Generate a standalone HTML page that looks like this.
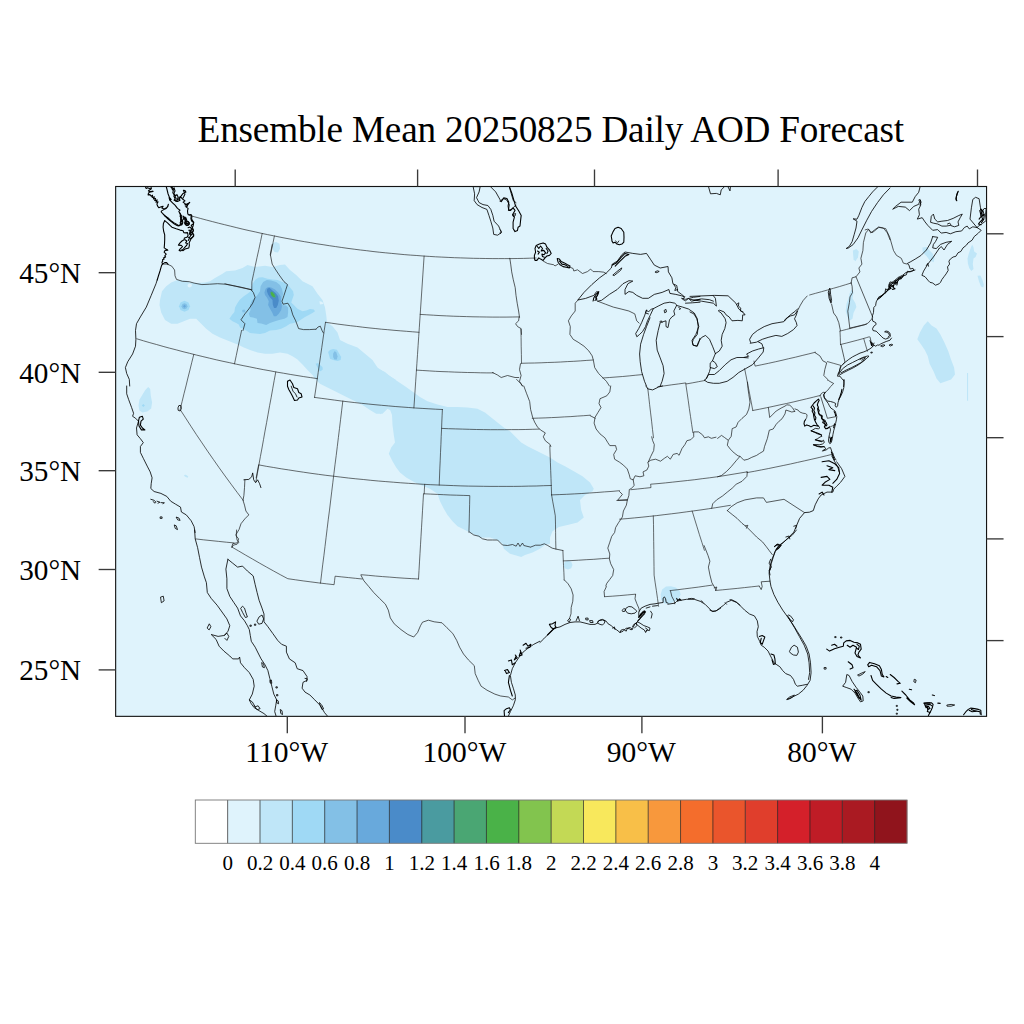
<!DOCTYPE html>
<html><head><meta charset="utf-8"><title>Ensemble Mean 20250825 Daily AOD Forecast</title>
<style>
html,body{margin:0;padding:0;background:#fff;}
body{width:1024px;height:1024px;overflow:hidden;position:relative;font-family:"Liberation Serif",serif;}
svg{position:absolute;left:0;top:0;}
text{font-family:"Liberation Serif",serif;fill:#000;}
.st{fill:none;stroke:#111;stroke-width:0.68;stroke-linejoin:round;stroke-linecap:round;}
.sl{fill:none;stroke:#1a1a1a;stroke-width:0.63;stroke-linejoin:round;stroke-linecap:round;}
.cd{fill:none;stroke:#000;stroke-width:1.08;stroke-linejoin:round;stroke-linecap:round;}
.co{fill:none;stroke:#000;stroke-width:0.82;stroke-linejoin:round;stroke-linecap:round;}
.tk{stroke:#3a3a3a;stroke-width:1.35;fill:none;}
</style></head><body>
<svg width="1024" height="1024" viewBox="0 0 1024 1024">
<defs><clipPath id="fc"><rect x="115.65" y="186.5" width="870.9" height="529.85"/></clipPath></defs>
<rect x="115.65" y="186.5" width="870.90" height="529.85" fill="#dff3fc"/>
<g clip-path="url(#fc)">
<polygon fill="#bfe6f8" points="160.0,300.0 162.0,291.2 166.2,286.2 171.2,282.5 177.5,280.0 186.2,280.5 190.0,282.5 197.5,283.0 205.0,282.5 210.0,281.2 215.0,278.0 222.5,273.8 226.2,271.2 235.0,270.5 242.5,268.0 247.5,265.0 255.0,267.0 265.0,265.8 272.5,267.0 280.0,265.0 285.0,264.5 290.0,270.0 296.2,275.0 302.5,281.2 312.5,286.2 317.5,293.8 322.5,300.0 325.0,307.5 326.2,315.0 327.0,322.5 332.5,326.2 337.5,332.5 340.0,340.0 347.5,343.8 357.5,347.5 365.0,353.8 372.5,360.0 377.5,367.5 386.2,373.8 396.0,380.0 396.0,412.5 387.5,408.8 382.5,413.8 376.2,413.8 370.0,410.0 362.5,405.0 352.5,400.0 342.5,395.0 335.0,391.2 327.5,387.5 320.0,383.8 315.0,378.8 312.5,375.0 307.5,370.0 302.5,364.5 297.5,359.5 292.5,356.2 287.5,353.8 280.0,352.5 272.5,353.8 265.0,353.8 257.5,352.5 250.0,350.0 243.8,347.5 238.8,345.0 232.5,342.5 226.2,340.0 220.0,337.5 212.5,333.8 206.2,328.8 201.2,323.8 196.2,318.8 190.0,318.8 183.8,321.2 177.5,323.8 171.2,323.8 165.0,320.0 161.2,312.5 159.5,305.0"/>
<polygon fill="#bfe6f8" points="380.0,369.5 385.0,372.0 390.0,376.2 397.5,381.2 405.0,386.2 413.8,392.5 420.0,397.0 427.5,401.2 437.5,404.5 447.5,407.0 457.5,407.0 467.5,407.5 477.5,408.8 485.0,412.5 491.2,417.5 497.5,422.5 503.8,427.5 510.0,431.2 516.2,437.5 521.2,442.5 527.5,446.2 535.0,450.0 542.5,453.8 550.0,457.5 557.5,462.5 565.0,466.2 573.8,471.2 582.5,476.2 590.0,482.5 593.8,488.8 592.5,491.2 585.0,495.0 580.0,500.0 581.2,510.0 583.8,517.5 577.5,522.5 567.5,525.0 558.8,527.0 552.5,531.2 550.0,537.5 550.0,543.8 545.0,545.0 540.0,548.8 532.5,552.5 525.0,555.0 521.2,557.0 516.2,555.5 510.0,553.8 503.8,548.8 502.5,543.8 497.5,540.0 490.0,537.5 480.0,537.5 472.5,533.8 465.0,530.0 457.5,526.2 452.5,521.2 447.5,515.0 443.8,508.8 440.0,501.2 437.5,493.8 430.0,488.8 423.8,486.2 415.0,482.5 406.2,477.5 400.0,472.5 396.2,467.5 392.5,461.2 388.8,453.8 391.2,447.5 395.0,442.5 393.8,435.0 392.5,425.0 392.0,415.0 390.0,409.5 386.2,408.8 382.5,411.2 380.0,414.5"/>
<polygon fill="#bfe6f8" points="563.5,565.0 564.8,561.8 568.0,560.5 571.2,561.8 572.5,565.0 571.2,568.2 568.0,569.5 564.8,568.2"/>
<polygon fill="#9fd9f5" points="229.4,318.8 231.9,315.0 234.4,311.9 235.0,307.5 237.5,303.1 240.0,299.4 243.8,296.2 247.5,293.8 250.6,291.2 251.2,287.5 253.1,283.1 255.6,279.4 258.8,277.5 262.5,277.2 267.5,278.8 272.5,279.4 277.5,280.0 282.5,281.9 287.5,284.0 290.0,287.5 293.1,291.2 293.8,295.0 292.5,298.8 291.2,302.5 293.8,305.0 297.5,308.8 302.5,311.2 306.2,310.6 310.0,309.0 313.8,309.4 315.0,311.2 312.5,313.1 308.8,315.0 305.0,316.9 301.2,319.4 297.5,321.9 293.8,323.1 290.0,323.8 286.2,326.2 281.2,328.8 276.2,330.0 270.0,330.6 265.0,333.1 260.0,334.0 255.0,333.5 250.0,333.1 246.2,330.6 243.1,328.8 240.0,327.5 238.8,324.4 236.2,323.1 232.5,321.2"/>
<polygon fill="#83c0e6" points="248.8,313.8 250.6,310.0 250.0,305.0 251.9,300.6 255.0,298.1 257.5,295.0 260.0,291.2 260.6,286.2 263.1,281.9 266.9,280.0 271.2,280.6 276.2,281.9 280.0,285.0 281.9,288.8 283.1,293.8 281.9,298.1 281.2,302.5 282.5,305.0 286.2,305.6 288.1,307.5 288.1,312.5 287.5,316.9 284.4,318.8 280.0,319.8 275.0,321.2 270.0,323.1 266.2,325.0 261.2,323.5 257.5,323.1 256.9,318.8 253.1,317.5 250.0,316.9"/>
<polygon fill="#83c0e6" points="242.2,310.0 244.4,309.4 245.6,311.0 244.4,312.5 242.5,312.2"/>
<polygon fill="#68a9dc" points="264.4,292.5 265.6,288.8 268.1,286.9 271.2,287.5 275.0,289.4 278.1,292.5 280.6,296.2 281.2,301.2 281.9,306.2 281.2,310.0 278.8,313.8 276.2,316.2 273.8,316.2 272.2,312.5 270.0,308.8 268.1,305.0 268.8,301.2 266.9,297.5 265.0,295.0"/>
<polygon fill="#4a8bc9" points="267.2,288.8 269.4,287.8 271.9,290.0 275.6,293.1 278.1,296.2 278.8,300.6 277.8,305.0 276.2,308.1 274.0,308.1 272.8,304.4 272.5,300.0 270.0,297.5 268.1,294.4 266.9,291.2"/>
<polygon fill="#4a9ba0" points="270.0,291.9 271.9,291.0 274.4,293.1 276.2,296.2 275.6,298.8 273.1,298.1 271.0,295.6"/>
<polygon fill="#4ab248" points="270.6,292.5 272.2,291.9 274.4,294.4 275.0,296.9 273.1,296.9 271.2,295.0"/>
<polygon fill="#dff3fc" points="319.4,301.2 321.2,301.5 323.5,303.1 323.1,304.0 320.0,304.4"/>
<polygon fill="#9fd9f5" points="328.1,351.9 330.0,350.0 333.1,349.0 336.9,349.8 338.8,353.1 341.2,356.9 340.6,360.0 337.5,361.0 333.1,360.0 330.0,358.8 329.0,355.0"/>
<polygon fill="#83c0e6" points="333.1,353.8 334.4,351.2 336.2,351.9 337.5,356.2 336.9,359.4 334.4,359.4 333.1,356.9"/>
<polygon fill="#9fd9f5" points="315.6,363.8 318.1,363.1 320.0,365.0 322.5,366.9 322.8,369.4 320.6,371.2 318.8,370.6 317.5,367.5"/>
<polygon fill="#9fd9f5" points="179.0,306.2 180.5,302.5 184.5,300.8 188.5,302.5 190.0,306.2 188.5,310.0 184.5,311.8 180.5,310.0"/>
<polygon fill="#83c0e6" points="181.5,306.2 182.5,304.0 184.5,303.2 186.5,304.0 187.5,306.2 186.5,308.5 184.5,309.2 182.5,308.5"/>
<polygon fill="#68a9dc" points="183.0,306.2 184.5,304.8 186.0,306.2 184.5,307.8"/>
<polygon fill="#dff3fc" points="187.5,285.0 189.0,283.5 191.5,284.0 192.0,286.0 190.0,287.5 188.0,287.0"/>
<polygon fill="#bfe6f8" points="917.3,339.3 919.9,332.5 923.8,325.6 927.7,321.2 931.6,325.6 936.5,328.6 940.4,334.4 944.3,342.2 948.2,351.0 951.1,359.8 954.1,367.6 955.0,374.5 951.1,379.4 946.2,381.3 940.4,383.3 936.5,378.4 933.6,371.5 929.6,363.7 927.7,355.9 924.8,350.1 920.9,344.2"/>
<polygon fill="#bfe6f8" points="845.7,311.0 846.6,303.2 848.6,298.3 849.6,293.4 851.5,289.5 853.5,292.4 852.5,298.3 855.4,303.2 856.4,307.1 853.5,313.0 852.5,318.8 849.6,320.8 847.6,316.9"/>
<polygon fill="#bfe6f8" points="852.9,250.5 856.4,248.9 858.8,251.4 858.0,257.3 855.4,261.2 853.5,259.2"/>
<polygon fill="#bfe6f8" points="922.4,247.5 926.7,246.9 929.6,250.5 932.6,253.4 934.5,258.3 933.6,262.2 929.6,260.2 926.7,256.3 922.8,252.4"/>
<polygon fill="#bfe6f8" points="977.5,275.8 980.4,275.5 982.4,279.8 983.8,284.6 983.4,287.6 981.0,286.6 979.1,281.7"/>
<polygon fill="#bfe6f8" points="967.0,373.1 968.1,373.1 968.1,400.8 967.0,400.8"/>
<polygon fill="#bfe6f8" points="138.5,405.5 139.4,399.7 142.4,394.8 145.3,389.9 148.2,387.0 150.2,388.9 150.8,395.8 152.1,402.6 151.2,408.5 147.2,411.4 142.4,412.4 139.4,410.4"/>
<polygon fill="#9fd9f5" points="141.8,405.5 143.3,404.0 144.9,405.5 143.3,407.1"/>
<polygon fill="#bfe6f8" points="184.0,475.1 185.9,474.7 188.3,476.6 187.5,477.8 184.8,476.6"/>
<polygon fill="#bfe6f8" points="660.7,594.5 662.1,589.6 666.0,586.6 670.9,586.2 675.7,587.6 679.6,590.5 680.6,594.5 678.7,598.4 674.8,601.3 668.9,604.2 664.0,603.2 661.1,599.3"/>
<polygon fill="#bfe6f8" points="272.5,243.0 276.2,242.0 279.5,243.8 280.0,248.8 278.0,252.5 274.5,252.0 272.5,248.8"/>
<polygon fill="#bfe6f8" points="972.1,244.4 973.5,247.2 974.2,251.4 977.0,253.5 975.6,257.0 973.5,258.4 972.8,264.1 973.5,269.0 971.4,271.1 969.3,268.3 967.9,263.4 967.5,258.4 968.6,254.2 970.0,250.0"/>
<polyline class="sl" points="188.2,215.0 194.2,216.7 200.3,218.4 206.3,220.0 212.4,221.6 218.5,223.2 224.6,224.7 230.7,226.2 236.8,227.7 242.9,229.2 249.1,230.6 255.2,231.9 261.3,233.3 267.5,234.6 273.6,235.8 279.8,237.1 286.0,238.3 292.1,239.4 298.3,240.6 304.5,241.7 310.7,242.7 316.9,243.8 323.1,244.7 329.3,245.7 335.6,246.6 341.8,247.5 348.0,248.4 354.2,249.2 360.5,250.0 366.7,250.7 373.0,251.5 379.2,252.2 385.4,252.8 391.7,253.4 398.0,254.0 404.2,254.6 410.5,255.1 416.8,255.5 423.0,256.0 429.3,256.4 435.6,256.8 441.8,257.1 448.1,257.4 454.4,257.7 460.7,257.9 467.0,258.1 473.3,258.3 479.5,258.4 485.8,258.5 492.1,258.6 498.4,258.6 504.7,258.6 511.0,258.6 517.2,258.5 523.5,258.4 529.8,258.2 536.1,258.0"/>
<polyline class="sl" points="262.2,233.4 260.5,241.5 258.8,249.6 257.0,257.6 255.3,265.6 253.6,273.7 251.9,281.7 251.8,285.8 251.8,289.9"/>
<polyline class="sl" points="224.9,283.8 230.3,285.1 235.6,286.3 241.0,287.5 246.4,288.7 251.8,289.9"/>
<polyline class="sl" points="274.4,236.0 273.1,242.4 271.8,248.8 270.5,255.1"/>
<polyline class="sl" points="136.8,338.8 143.4,340.8 149.9,342.7 156.5,344.5 163.1,346.4 169.7,348.2 176.4,349.9 183.0,351.7 189.6,353.3 196.3,355.0 202.9,356.6 209.6,358.2 216.3,359.8 223.0,361.3 229.7,362.7 236.4,364.2 243.1,365.6 249.8,366.9 256.5,368.3 263.2,369.6 270.0,370.8 276.7,372.1 283.4,373.2 290.2,374.4 297.0,375.5 303.7,376.6 310.5,377.6 317.3,378.6"/>
<polyline class="sl" points="241.6,330.4 239.8,338.8 238.0,347.1 236.3,355.4 234.5,363.8"/>
<polyline class="sl" points="193.8,354.4 191.8,362.3 189.9,370.1 187.9,378.0 186.0,385.9 184.0,393.7 182.1,401.6 180.1,409.5 185.5,417.8 190.9,426.2 196.4,434.6 202.0,442.9 207.6,451.2 213.4,459.5 219.2,467.8 225.1,476.0 231.1,484.2 237.2,492.4 243.4,500.6"/>
<polyline class="sl" points="275.8,371.9 274.2,380.4 272.7,388.8 271.2,397.3 269.6,405.7 268.1,414.2 266.6,422.6 265.0,431.1 263.5,439.6 262.0,448.0 260.4,456.5 258.9,464.9 257.4,473.3 255.9,481.7"/>
<polyline class="sl" points="325.5,322.3 324.2,330.7 323.0,339.0 321.8,347.4 320.6,355.7 319.4,364.1 318.2,372.4 317.0,380.7 315.8,389.0 314.5,397.4"/>
<polyline class="sl" points="325.5,322.3 331.7,323.2 337.9,324.1 344.1,324.9 350.3,325.7 356.5,326.4 362.8,327.2 369.0,327.9 375.2,328.5 381.5,329.2 387.7,329.7 394.0,330.3 400.2,330.8 406.5,331.3 412.7,331.8 419.0,332.3"/>
<polyline class="sl" points="314.5,397.4 321.2,398.3 327.9,399.2 334.6,400.1 341.4,401.0 348.1,401.8 354.8,402.6 361.5,403.3 368.2,404.0 375.0,404.7 381.7,405.3 388.4,405.9 395.2,406.5 401.9,407.0 408.7,407.5 415.4,408.0 422.1,408.4 428.9,408.8 435.7,409.2 442.4,409.5"/>
<polyline class="sl" points="424.1,256.1 423.5,265.1 422.9,274.1 422.3,283.0 421.7,292.0 421.1,301.0 420.5,309.9 419.9,318.9 419.3,327.8 418.7,336.7 418.1,345.6 417.5,354.5 416.9,363.4 416.3,372.3 415.7,381.2 415.1,390.1 414.5,399.0 413.9,407.9"/>
<polyline class="sl" points="342.8,401.1 341.7,410.2 340.6,419.3 339.5,428.4 338.4,437.4 337.3,446.5 336.2,455.6 335.0,464.7 333.9,473.7 332.8,482.8 331.7,491.9 330.6,501.0 329.5,510.1 328.3,519.2 327.2,528.3 326.1,537.4 325.0,546.5 323.9,555.7 322.7,564.8 321.6,573.9 320.5,583.1"/>
<polyline class="sl" points="258.9,464.9 266.3,466.3 273.7,467.5 281.2,468.8 288.6,469.9 296.1,471.1 303.5,472.2 311.0,473.3 318.4,474.3 325.9,475.3 333.4,476.2 340.8,477.1 348.3,478.0 355.8,478.8 363.3,479.5 370.8,480.3 378.3,481.0 385.8,481.6 393.3,482.2 400.8,482.8 408.3,483.3 415.8,483.8 423.3,484.3 430.8,484.7 438.4,485.0 445.9,485.3 453.4,485.6 460.9,485.9 468.5,486.1 476.0,486.2 483.5,486.3 491.0,486.4 498.6,486.4 506.1,486.4 513.6,486.4 521.2,486.3 528.7,486.1 536.2,486.0 543.7,485.7 551.3,485.5"/>
<polyline class="sl" points="442.4,409.5 442.1,415.8 441.8,422.1 441.6,428.4 441.2,436.5 440.9,444.6 440.5,452.7 440.2,460.8 439.8,468.9 439.5,477.0 439.2,485.1"/>
<polyline class="sl" points="420.2,314.4 426.8,314.8 433.4,315.2 440.0,315.6 446.6,315.9 453.2,316.2 459.8,316.4 466.4,316.6 473.0,316.8 479.6,316.9 486.2,317.0 492.8,317.1 499.4,317.1 506.1,317.1 512.7,317.0 519.3,316.9"/>
<polyline class="sl" points="416.4,370.1 422.8,370.5 429.2,370.9 435.6,371.3 442.0,371.6 448.4,371.8 454.8,372.1 461.2,372.3 467.6,372.5 474.1,372.6 480.5,372.8 486.9,372.9 493.3,372.9"/>
<polyline class="sl" points="441.6,428.4 448.5,428.7 455.5,428.9 462.5,429.1 469.4,429.3 476.4,429.5 483.4,429.6 490.4,429.7 497.3,429.7 504.3,429.7 511.3,429.6 518.2,429.6 525.2,429.5 532.2,429.3 539.2,429.1"/>
<polyline class="sl" points="424.7,484.3 424.4,489.1 424.2,493.8"/>
<polyline class="sl" points="423.5,493.8 423.0,502.3 422.5,510.8 422.0,519.3 421.5,527.8 421.0,536.3 420.5,544.8 420.0,553.4 419.5,561.9 419.0,570.5 418.5,579.0"/>
<polyline class="sl" points="424.2,493.8 430.7,494.1 437.2,494.4 443.7,494.7 450.2,495.0 456.7,495.2 463.2,495.4 469.8,495.6 469.6,504.7 469.4,513.9 469.2,523.1 468.9,532.3"/>
<polyline class="sl" points="418.5,579.0 411.3,578.6 404.1,578.2 396.9,577.7 389.7,577.1 382.6,576.6 375.4,576.0 368.2,575.3 361.1,574.7"/>
<polyline class="sl" points="362.1,579.0 355.4,578.3 348.6,577.6 341.8,576.9 335.1,576.2 334.6,580.4 334.1,584.7 326.4,583.8 318.7,582.9 310.9,581.9 303.2,580.9 295.5,579.8 287.8,578.7 280.7,574.9 273.6,571.0 266.6,567.1 259.5,563.1 252.6,559.1 245.6,555.1 238.7,551.0 231.8,547.0"/>
<polyline class="sl" points="195.6,538.9 203.3,539.8 211.0,540.6 218.7,541.4 226.3,542.2 234.0,542.9"/>
<polyline class="sl" points="549.8,445.8 550.1,454.0 550.4,462.2 550.7,470.4 551.0,478.5 551.3,486.7 551.6,494.9"/>
<polyline class="sl" points="551.6,494.9 559.2,494.6 566.7,494.3 574.3,493.9 581.8,493.5 589.4,493.0 596.9,492.5 604.4,491.9 612.0,491.4 619.5,490.7"/>
<polyline class="sl" points="551.6,494.9 552.8,501.9 554.1,508.9 555.3,515.8 555.5,524.1 555.6,532.4 555.7,540.7 555.9,549.0"/>
<polyline class="sl" points="562.9,550.5 563.2,557.9 563.5,565.3 563.9,572.7 564.2,580.1"/>
<polyline class="sl" points="563.3,560.9 571.0,560.6 578.6,560.2 586.2,559.7 593.8,559.3 601.4,558.7 609.0,558.2"/>
<polyline class="sl" points="532.2,418.3 538.7,418.1 545.1,417.9 551.6,417.6 558.0,417.3 564.4,416.9 570.9,416.6 577.3,416.1 583.7,415.7 590.2,415.2"/>
<polyline class="sl" points="521.5,363.3 528.1,363.1 534.6,363.0 541.1,362.8 547.7,362.5 554.2,362.3 560.7,362.0 567.3,361.6 573.8,361.3 580.3,360.9 586.8,360.4 593.4,360.0"/>
<polyline class="sl" points="521.5,363.3 521.4,354.7 521.2,346.2 521.1,337.6 520.9,329.1"/>
<polyline class="sl" points="602.8,378.0 609.4,377.5 616.0,377.0 622.6,376.5 629.2,375.9 635.8,375.2 642.3,374.6"/>
<polyline class="sl" points="653.5,437.8 652.5,429.5 651.6,421.2 650.6,412.9 649.6,404.5 648.7,396.2 647.7,387.9"/>
<polyline class="sl" points="657.9,386.6 664.9,385.8 671.8,384.8 678.8,383.9 685.8,382.9 685.8,383.4 685.9,384.0 692.2,382.9 698.5,381.7 704.8,380.5"/>
<polyline class="sl" points="685.8,384.0 687.0,392.1 688.2,400.2 689.3,408.3 690.5,416.4 691.7,424.6 692.9,432.7"/>
<polyline class="sl" points="744.6,368.6 746.3,377.0 747.9,385.3 749.6,393.7 751.2,402.1 752.8,410.5"/>
<polyline class="sl" points="752.8,410.5 759.6,409.2 766.3,407.8 773.1,406.4 779.8,404.9 786.5,403.5 793.2,402.0 799.9,400.4 806.6,398.8 813.3,397.2 820.0,395.5"/>
<polyline class="sl" points="754.0,361.1 754.5,363.6 755.1,366.1 761.8,364.7 768.5,363.3 775.3,361.8 782.0,360.3 788.7,358.7 795.4,357.2 802.1,355.5 808.8,353.9 815.5,352.2"/>
<polyline class="sl" points="825.8,428.6 830.8,426.6 835.7,424.5"/>
<polyline class="sl" points="619.6,519.2 627.1,518.6 634.5,517.9 641.9,517.2 649.3,516.4 656.7,515.6 664.1,514.7 671.5,513.8 678.9,512.9 686.2,511.9 693.6,510.9 701.0,509.9 708.4,508.8 715.7,507.7 723.1,506.5 730.4,505.3"/>
<polyline class="sl" points="630.9,489.7 637.6,489.0 644.3,488.3 651.0,487.6 650.8,485.9 650.6,484.2 658.0,483.6 665.4,482.9 672.8,482.1 680.1,481.3 687.5,480.5 694.8,479.7 702.2,478.7 709.6,477.8 716.9,476.8 722.9,475.9 728.9,474.9 734.9,473.9 740.9,472.9 746.9,471.9"/>
<polyline class="sl" points="746.9,471.9 747.0,472.3 747.0,472.6 754.3,471.3 761.5,469.9 768.7,468.5 775.9,467.0 783.2,465.5 790.4,464.0 797.5,462.4 804.7,460.8 811.9,459.2 819.1,457.5 826.2,455.8 833.4,454.0"/>
<polyline class="sl" points="616.8,500.5 622.0,500.0 627.2,499.5"/>
<polyline class="sl" points="653.3,515.9 653.5,524.4 653.6,532.8 653.7,541.3 653.8,549.7 653.9,558.2 654.0,566.6 654.1,575.1 655.2,582.9 656.4,590.7 657.5,598.5 658.6,606.3"/>
<polyline class="sl" points="692.2,511.1 694.6,519.0 697.0,526.8 699.4,534.6 701.9,542.4 704.4,550.3"/>
<polyline class="sl" points="670.1,590.6 677.1,589.8 684.2,588.9 691.2,588.0 698.3,587.1 705.3,586.1 712.3,585.1"/>
<polyline class="sl" points="715.4,590.5 722.7,589.8 729.9,589.1 737.2,588.4 744.5,587.6 751.7,586.8 759.0,586.0"/>
<polyline class="sl" points="604.4,596.7 612.2,596.2 619.9,595.6 627.7,594.9 635.4,594.2"/>
<polyline class="sl" points="809.6,295.0 815.6,293.3 821.5,291.7 827.5,290.0 833.4,288.3 839.4,286.6 845.3,284.8 851.2,283.0"/>
<polyline class="sl" points="840.0,331.1 846.6,329.4 853.3,327.7 859.9,326.0 866.5,324.2"/>
<polyline class="sl" points="840.5,344.5 846.3,343.1 852.0,341.6 857.8,340.1 863.5,338.5 866.3,337.7 869.2,336.8"/>
<polyline class="sl" points="863.7,338.5 865.5,344.8 867.4,351.2"/>
<polyline class="sl" points="840.0,331.1 840.3,337.8 840.5,344.5"/>
<polyline class="sl" points="827.4,361.6 833.8,363.4 840.2,365.2"/>
<polyline class="st" points="162.9,264.1 167.2,264.1 171.7,266.1 174.6,270.0 175.0,275.8 176.5,279.4 182.4,281.3 189.2,281.7 194.1,283.1 201.9,284.6 209.8,284.2 217.6,283.7 225.4,284.2 233.2,285.6 241.0,287.2 250.8,289.5"/>
<polyline class="st" points="250.8,289.5 253.3,292.4 255.1,297.3 252.7,303.2 248.8,309.0 244.9,313.9 241.0,319.8 244.9,323.7 243.0,330.5"/>
<polyline class="st" points="272.2,244.6 270.3,254.4 272.2,264.1 275.2,269.0 279.1,274.9 284.0,281.7 287.5,284.6 285.9,289.5 284.0,295.4 282.0,301.2 283.0,304.2 287.9,303.2 290.8,308.1 292.8,314.9 295.7,320.8 298.6,328.6 303.5,329.6 309.4,329.6 316.0,329.2"/>
<polyline class="st" points="316.0,329.2 318.0,327.0 320.3,326.2 322.2,330.9 323.4,332.9"/>
<polyline class="st" points="509.8,258.3 510.7,264.1 511.7,271.9 513.3,279.8 515.2,287.6 516.0,295.4 517.2,303.2 518.6,311.0 519.5,317.2"/>
<polyline class="st" points="519.1,317.2 518.6,320.8 515.6,323.7 517.6,326.6 521.1,328.6 521.5,334.4"/>
<polyline class="st" points="520.5,363.7 519.5,369.6 521.1,375.5 519.5,381.3 522.5,386.0"/>
<polyline class="st" points="516.6,379.4 520.5,383.3 522.5,386.0"/>
<polyline class="st" points="578.1,299.9 575.2,303.2 575.2,311.0 571.3,315.9 568.4,320.8 570.3,326.6 569.9,334.4 573.2,339.3 578.1,342.2 584.0,346.2 588.9,351.0 592.2,355.9 593.4,360.4 594.7,367.6 598.6,373.5 603.5,378.4 606.4,381.3 609.4,386.0"/>
<polyline class="st" points="597.7,301.2 605.5,304.2 613.3,307.1 621.1,309.0 628.9,311.0 634.8,313.9 636.7,320.8 639.1,323.1"/>
<polyline class="st" points="851.1,283.1 852.1,277.8 856.0,276.8 859.9,271.9 858.9,268.0 861.9,264.1 860.9,258.3 862.9,250.5 863.4,242.6 865.8,232.9 868.7,229.4 870.7,232.9 874.6,229.9 878.5,227.0 883.4,228.0 887.3,232.9 890.0,239.7"/>
<polyline class="st" points="856.0,276.8 872.6,316.9"/>
<polyline class="st" points="831.6,304.2 833.6,313.0 836.5,316.9 838.8,322.7 840.4,330.5"/>
<polyline class="st" points="797.4,311.0 800.4,305.1 803.3,300.3 807.2,296.0"/>
<polyline class="st" points="815.0,352.6 819.9,355.9 822.8,360.8 826.7,362.8 824.8,369.6 823.8,375.5 827.7,379.4"/>
<polyline class="st" points="849.8,328.1 864.8,324.6 868.1,323.1 871.0,319.8 872.2,318.5"/>
<polyline class="st" points="849.8,328.1 848.8,320.0 847.8,311.2 849.4,302.5 850.0,296.9 852.5,292.5 852.1,286.2 851.2,282.9"/>
<polyline class="st" points="841.0,344.6 844.0,357.5 845.0,362.2 843.1,364.0"/>
<polyline class="st" points="870.0,337.2 871.0,341.2 872.5,345.0"/>
<polyline class="st" points="840.6,365.6 839.8,370.0 838.8,373.8"/>
<polyline class="st" points="865.2,229.9 868.1,229.0 872.0,232.9 878.9,227.4 885.7,228.6 889.6,236.8 893.5,250.5 896.4,255.3 901.3,258.3 903.3,263.1 907.2,264.1"/>
<polyline class="st" points="258.6,465.1 256.2,477.8"/>
<polyline class="st" points="244.9,479.8 244.5,487.6 243.9,495.4 243.0,500.3 244.5,505.1 245.9,511.0 248.8,514.9 244.9,518.8 241.0,523.7 239.0,529.6 236.1,534.4 237.1,540.3 239.0,542.2 237.1,544.2 233.2,545.2 232.2,547.1"/>
<polyline class="st" points="523.8,386.0 526.7,393.8 529.7,401.6 530.6,409.4 532.6,417.2 534.6,422.1 537.5,427.0 540.4,429.9 545.3,432.9 543.3,436.8 545.3,440.7 550.2,444.6 550.8,446.5"/>
<polyline class="st" points="590.2,415.7 595.1,418.2"/>
<polyline class="st" points="610.7,386.0 609.8,391.9 606.8,395.8 600.0,398.7 599.0,403.6 601.0,407.5 598.0,412.4 595.1,417.2 594.1,423.1 596.1,429.0 600.0,433.9 604.9,437.8 607.8,442.6 609.8,445.6 615.6,445.6 616.6,449.5 613.7,454.4 614.6,459.2 619.5,462.2 623.4,465.1 627.3,469.0 629.3,474.9 630.3,478.8 633.2,479.8 634.2,485.6 631.2,488.5 629.3,489.5 628.9,495.4 627.3,500.3 626.4,505.1 623.4,511.0 622.4,516.9 620.5,519.8 618.5,522.7 615.6,527.6 614.6,532.5 611.7,536.4 609.8,542.2 607.8,548.1 609.8,554.0 609.4,558.9 610.7,563.7 613.7,569.6 612.7,575.5 609.8,579.4 606.8,583.3 605.8,586.0"/>
<polyline class="st" points="627.3,500.3 617.6,500.3 622.4,494.4 619.5,491.5"/>
<polyline class="st" points="633.2,479.8 635.1,475.8 640.0,476.8 643.9,475.8 643.0,471.9 646.9,470.0 648.8,466.1 647.8,462.2 650.8,460.2 655.6,459.2 660.5,461.2 664.4,458.3 667.4,456.3 670.3,459.2 673.2,454.4 677.1,453.4 679.1,455.3 682.0,448.5 684.9,444.6 686.9,440.7 690.8,439.7 693.7,436.8 693.7,431.9 698.6,431.9 702.5,434.8 704.5,437.8 708.4,436.8 711.3,438.3 716.0,437.2"/>
<polyline class="st" points="648.4,461.8 650.8,456.3 653.7,450.5 654.3,444.6 652.7,440.7 651.7,436.8"/>
<polyline class="st" points="530.6,547.1 535.5,545.2 540.4,545.2 544.3,543.8 547.2,545.2 552.1,548.1 556.0,549.1 562.9,550.5"/>
<polyline class="st" points="469.5,532.0 473.8,535.0 478.8,536.2 482.5,538.8 487.5,540.0 492.5,540.0 497.5,540.0 502.5,545.0 507.5,545.5 512.5,544.5 516.2,546.2 518.0,543.0 520.0,546.5 522.5,543.0 523.8,545.5 530.0,547.0"/>
<polyline class="st" points="492.5,372.5 497.5,375.0 501.2,377.5 507.5,375.5 515.0,377.5 518.8,377.5"/>
<polyline class="st" points="717.6,438.4 721.5,435.4 724.4,437.4 728.3,440.3 731.2,436.4 732.2,428.6 736.1,427.0 738.1,422.3 742.0,418.4 746.5,414.5 748.8,409.1 750.0,402.2 748.8,394.4 748.0,388.6 747.5,382.1"/>
<polyline class="st" points="728.3,440.7 727.3,445.2 730.3,449.1 734.2,453.0 738.1,455.9 740.0,456.3 736.1,460.8 731.2,466.7 726.4,471.6 721.5,475.5 717.6,476.8"/>
<polyline class="st" points="740.0,456.3 743.9,460.2 747.9,459.3 751.8,457.3 756.6,455.4 759.6,453.4 763.5,451.1 764.5,446.6 767.4,438.4 769.3,430.2 773.2,429.0 776.2,424.3 779.1,421.2 782.0,418.8 785.0,413.9 785.9,410.0 791.8,412.0 794.7,411.4"/>
<polyline class="st" points="768.4,407.7 769.7,417.5 772.3,414.9 776.2,411.0 781.1,408.1 785.0,406.1 786.9,404.8 789.8,405.2 792.8,408.1 794.7,411.4"/>
<polyline class="st" points="747.3,472.0 746.9,476.4 742.0,481.3 736.1,484.3 732.2,488.2 727.3,492.1 722.5,496.0 716.6,499.9 712.7,503.8 711.7,508.3"/>
<polyline class="st" points="727.3,510.6 731.2,506.7 737.1,502.8 744.9,499.9 756.6,497.9 763.5,497.9 766.4,502.4 784.0,499.3 804.5,512.6"/>
<polyline class="st" points="727.3,510.6 732.2,514.5 737.1,518.4 742.0,523.3 746.9,527.2 751.8,532.1 756.6,537.0 762.5,541.9 766.4,546.8 769.3,550.7 772.3,554.6"/>
<polyline class="st" points="745.3,525.9 747.9,525.3 746.5,528.2"/>
<polyline class="st" points="236.6,530.0 236.2,535.9 238.6,538.8 237.6,542.7 232.7,543.7 231.8,547.2"/>
<polyline class="st" points="361.0,575.3 363.9,580.8 368.8,586.6 373.7,592.5 379.5,598.4 385.4,604.2 388.3,610.1 390.3,617.9 394.2,623.8 401.0,629.6 407.9,634.5 413.7,637.0 417.6,632.5 420.5,625.7 422.5,622.2 428.4,620.2 434.2,621.8 442.0,622.8 446.9,627.7 452.8,633.5 456.7,640.4 459.6,647.2 463.5,654.0 468.4,659.9 474.3,665.7 475.2,673.6 478.2,680.4 481.1,686.2 487.0,690.2 494.8,694.1 500.6,696.0 508.4,697.0 512.3,699.9 515.3,698.0"/>
<polyline class="st" points="606.4,586.6 604.1,591.5 604.5,596.4"/>
<polyline class="st" points="704.1,545.6 708.0,555.4 709.9,561.2 708.4,567.1 709.9,574.9 711.9,582.7 714.8,587.6 715.8,589.6"/>
<polyline class="st" points="714.2,587.8 716.8,587.0 715.8,590.2"/>
<polyline class="st" points="670.5,590.9 671.8,596.4 674.4,601.3 674.8,603.8"/>
<polyline class="st" points="759.3,586.2 761.2,589.6 762.2,586.6 761.2,581.8 770.0,581.2"/>
<polyline class="st" points="825.1,392.5 827.8,390.2 830.5,386.6 833.7,383.5 830.9,382.0 828.6,380.6 827.4,380.0"/>
<polyline class="st" points="820.0,396.0 821.2,393.7 823.1,392.3 825.1,392.5"/>
<polyline class="st" points="820.8,396.8 827.4,418.3 835.6,416.7"/>
<polyline class="st" points="805.5,419.8 806.7,417.5 807.1,414.8 805.5,413.6 802.8,413.2 799.7,412.0 798.1,410.1 795.0,408.9"/>
<polyline class="st" points="543.1,261.0 547.5,263.5 553.8,264.8 555.0,266.0 558.1,264.1"/>
<polyline class="st" points="570.0,267.2 573.1,268.5 573.8,271.0 577.5,269.8 582.5,273.5 587.5,271.6 590.6,269.1 593.1,271.6 598.8,271.6 603.8,272.2 606.2,273.5"/>
<polyline class="st" points="564.4,580.0 568.1,583.8 571.2,588.8 573.1,595.0 572.8,601.2 571.2,607.5 571.0,613.8 569.4,618.8"/>
<polyline class="st" points="635.6,594.4 635.0,598.8 636.9,603.8 638.8,608.1 639.4,611.2"/>
<polyline class="cd" points="145.3,186.5 146.2,188.4 147.5,187.8 149.4,188.4 151.6,187.8 150.9,189.3 149.4,189.9 148.4,190.9 150.0,191.5 153.1,191.4 149.4,192.1 148.4,193.4 148.1,194.9 150.0,194.6 151.2,196.2 152.5,195.2 152.2,197.4 154.4,196.8 153.4,199.0 155.6,198.4 154.7,200.6 157.2,199.9 155.9,202.1 158.1,201.8 156.9,204.0 157.5,205.9 158.8,207.8 161.2,206.8 163.1,206.2 161.9,208.1 164.1,209.0 166.2,208.1 167.8,206.5 168.4,204.3 167.5,206.8 166.2,208.5 163.8,209.6 161.6,210.9 161.2,211.8 163.1,214.0 165.6,216.5 168.1,219.0 171.2,221.5 174.4,224.0 177.5,225.8 180.0,224.9 181.9,224.9 182.8,222.8 182.5,220.2"/>
<polyline class="cd" points="182.5,220.2 181.2,219.0 180.6,215.9 180.0,213.4 178.8,211.5 180.0,210.2 177.5,208.4 175.0,205.2 172.5,202.8 170.6,200.9 169.4,199.0 169.1,196.5 168.1,194.0 167.5,191.5 166.9,189.0 166.2,186.5"/>
<polyline class="cd" points="169.4,197.4 171.2,199.6 170.0,200.2 169.4,198.7"/>
<polyline class="cd" points="180.0,213.4 181.9,216.5 180.6,219.0 181.6,221.5 180.0,222.8 181.2,224.0"/>
<polyline class="cd" points="170.0,186.5 172.5,187.8 173.4,190.2 172.8,192.8 174.4,195.2 176.2,198.4 175.6,200.9 177.5,201.5 180.0,200.2 178.8,197.8 181.2,195.9 183.1,193.4 185.9,192.1 185.0,190.6 183.4,190.2 185.0,194.0 183.8,196.5 182.5,199.0 185.0,200.9 183.1,202.1 186.2,204.6 189.7,202.4 187.5,205.2 186.2,207.1 188.1,208.4 187.5,210.9 187.8,214.0 189.4,214.9 191.2,214.6 191.9,216.2 191.6,219.0 193.1,221.5 193.4,224.0 191.2,225.2 192.5,227.8 193.4,230.2 192.2,232.8 193.8,235.9 191.9,237.8 190.0,239.0"/>
<polyline class="cd" points="171.2,186.8 172.5,189.9 174.1,187.8 175.0,190.9 173.8,193.4 175.6,195.9 176.9,194.6 178.1,197.1 177.5,199.6 179.4,199.0 180.6,196.5 181.9,198.4"/>
<polyline class="cd" points="173.8,195.9 175.0,198.4 174.1,200.2 176.6,201.2 177.5,199.6"/>
<polyline class="cd" points="185.0,204.6 187.5,204.0 186.9,206.5 185.3,205.9"/>
<polyline class="cd" points="184.7,222.1 186.2,220.9 188.1,221.5 189.4,223.1 188.4,224.9 186.9,225.6 185.3,224.6 184.7,223.1 186.6,222.8 187.8,224.0 186.2,224.0"/>
<polyline class="cd" points="188.1,227.8 190.0,227.1 191.9,229.0 190.6,231.5 192.5,233.4 190.9,235.2 189.4,234.0 190.3,231.5 188.8,230.2"/>
<polyline class="cd" points="183.8,216.5 185.0,219.0 186.2,220.9 183.8,219.6 183.1,217.8"/>
<polyline class="cd" points="164.7,220.7 163.4,223.5 163.1,227.2 163.6,231.0 164.7,234.8 164.7,239.8 164.5,244.1 164.2,247.9 167.8,250.1 165.0,250.4 164.1,252.2 166.2,254.1 164.7,256.0 165.6,256.9 163.4,257.9 164.1,259.1 162.5,259.8 162.8,261.3 161.9,262.2 162.5,264.1 161.6,265.4 160.0,271.0 158.4,276.0 157.2,280.0"/>
<polyline class="cd" points="162.5,264.1 164.7,262.6 166.6,262.6 168.1,264.4"/>
<polyline class="cd" points="164.7,220.7 167.5,222.9 170.0,225.4 171.9,227.2 176.2,228.8 180.0,230.1 183.1,230.7 183.8,232.6 185.9,232.9 187.5,232.6 188.1,235.4 186.9,237.2 184.4,237.9 184.1,239.8 181.9,241.0 180.0,242.9 178.4,245.1 181.2,245.4 182.5,246.6 180.0,249.1 179.1,250.4 180.6,251.0 181.9,249.8 183.1,250.7 185.0,249.1 186.9,248.5 188.8,247.9 189.4,245.4 189.1,242.9 190.0,241.0 191.2,238.5 193.1,236.6 193.8,234.8 192.5,232.9 193.4,230.4 191.9,228.5 193.1,226.0 193.8,222.2 191.6,221.0 190.9,218.5 191.2,216.0"/>
<polyline class="cd" points="185.0,239.8 186.9,241.0 185.6,242.9 187.5,243.5 186.6,245.4 185.0,247.2 183.8,248.5 182.5,250.1"/>
<polyline class="cd" points="187.5,236.6 189.4,237.9 188.4,240.4 190.0,236.6 191.2,234.8 190.0,232.9 191.2,231.0 190.0,229.8"/>
<polyline class="cd" points="185.0,221.9 186.9,221.0 188.8,222.2 189.4,224.1 187.8,225.4 185.9,224.8 185.0,223.2 186.9,222.9 188.1,223.8"/>
<polyline class="cd" points="180.0,216.0 181.2,218.5 180.6,221.6 182.5,220.4 181.9,223.5 180.6,224.8 178.8,226.0 176.9,224.4 173.8,222.6 170.6,220.4 168.1,217.9 165.0,216.0"/>
<polyline class="cd" points="183.1,216.0 185.0,218.5 186.6,219.8 185.6,217.2"/>
<polyline class="co" points="157.2,279.9 156.0,283.7 151.2,295.4 146.3,307.1 140.4,316.9 136.5,323.7 135.5,330.5 135.9,339.3 135.5,346.2 132.6,354.0 127.7,361.8 125.4,367.6 126.7,373.5 129.3,379.4 129.7,386.0"/>
<polygon class="co" points="473.2,187.0 474.6,193.8 474.2,200.6 477.1,204.6 482.0,207.5 486.9,209.4 488.9,215.3 490.8,221.2 492.8,228.0 493.7,234.4 497.6,235.2 501.5,232.5 498.6,226.0 494.1,221.2 492.8,215.3 490.8,209.4 487.9,205.5 483.0,204.6 479.1,202.6 476.5,197.7 479.1,191.9 480.1,187.0"/>
<polyline class="co" points="490.8,187.0 495.7,191.9 500.6,200.6 503.5,198.7 506.4,199.7 509.4,204.6 508.4,210.4 511.3,209.4 514.2,206.5 516.0,205.5"/>
<polyline class="co" points="509.4,187.0 511.3,193.8 513.3,200.6 516.0,202.6"/>
<polygon class="co" points="578.1,299.7 584.0,292.4 591.8,284.6 599.6,277.8 606.4,272.9 611.3,268.0 612.3,264.1 617.2,261.2 622.1,254.4 625.0,252.0 632.8,253.4 640.6,254.4 646.5,253.4 650.4,259.2 654.3,265.1 660.2,268.0 668.0,266.5 668.4,271.9 671.9,277.8 672.9,283.7 676.8,285.6 677.7,291.5 681.6,294.4 684.6,296.9 681.6,295.8 675.8,294.4 669.9,293.4 668.9,289.5 662.1,292.4 654.3,294.4 648.4,298.3 642.6,298.3 636.7,295.4 632.8,292.4 628.9,291.5 625.0,294.4 625.0,289.5 627.9,283.7 632.8,281.1 628.9,280.7 623.0,283.7 617.2,289.5 609.4,294.4 601.6,300.3 597.7,301.2 595.7,299.3 598.6,292.4 596.7,291.5 593.8,295.4 585.9,298.3"/>
<polyline class="cd" points="612.3,265.1 616.2,263.1 621.1,257.3 625.0,253.4 628.9,254.4 625.0,256.3 620.1,261.2 615.2,266.1"/>
<polygon class="co" points="655.3,271.9 657.2,270.8 659.2,271.4 657.2,272.5"/>
<polyline class="co" points="673.8,284.6 675.8,287.6 674.8,290.5 677.7,289.5"/>
<polyline class="co" points="684.6,296.9 682.6,299.3 685.5,300.8 688.5,298.3 691.4,301.2 695.3,300.3 700.0,299.3"/>
<polyline class="co" points="681.6,298.3 685.5,299.3 693.4,297.3 700.0,296.4"/>
<polyline class="co" points="685.5,303.2 692.4,302.8 700.0,302.2"/>
<polygon class="co" points="636.7,336.4 635.7,333.5 638.7,328.6 641.6,322.7 644.5,315.9 646.5,310.0 648.4,312.0 651.4,309.0 653.3,308.7 650.4,314.9 647.5,320.8 645.5,326.6 642.6,331.5 639.6,334.4"/>
<polyline class="co" points="646.5,310.0 645.5,313.0 648.4,313.9"/>
<polyline class="co" points="650.0,317.8 646.5,326.6 643.6,334.4 640.6,344.2 639.6,354.0 640.2,361.8 641.6,371.5 644.5,381.3 646.5,386.0"/>
<polyline class="co" points="653.3,308.7 658.2,306.1 664.1,303.2 669.9,302.2 674.8,303.2 676.8,305.1 673.8,311.0 674.8,314.9 671.9,316.9 669.5,319.8 668.0,327.6 666.0,326.6 666.0,320.8 663.1,321.7 660.2,322.7 658.2,330.5 656.2,340.3 657.2,350.1 660.2,357.9 663.1,365.7 664.1,373.5 662.1,381.3 660.2,386.0"/>
<polygon class="co" points="664.5,310.2 666.0,309.4 666.4,312.0 665.0,312.6"/>
<polyline class="co" points="659.8,321.7 661.3,320.8 662.1,322.3"/>
<polyline class="co" points="676.8,305.5 682.6,307.1 688.5,309.0 694.3,313.0 697.3,318.8 698.2,326.6 697.3,334.4 693.4,339.3 692.4,342.2 693.4,345.2 697.3,346.2 699.2,341.3 700.0,338.3"/>
<polyline class="co" points="678.7,307.5 680.7,308.7 679.3,309.4"/>
<polyline class="co" points="708.6,187.0 710.5,193.8 716.4,193.4 720.3,194.8 721.2,189.9 724.2,187.0"/>
<polyline class="co" points="728.1,187.0 730.0,190.9 730.4,187.0"/>
<polyline class="co" points="877.5,187.0 872.6,191.9 868.7,196.7 864.8,201.6 861.9,207.5 858.9,215.3 857.0,219.2 853.1,218.8 857.0,221.2 856.0,228.0 854.1,234.8 852.1,241.7 849.2,246.5 846.2,248.5 848.2,248.1 853.1,244.6 858.0,237.8 861.9,229.9 866.8,220.2 871.6,211.4 877.5,202.6 883.4,194.8 890.0,188.0"/>
<polygon class="co" points="829.6,288.5 828.3,292.4 829.1,298.3 831.0,303.2 831.6,300.3 830.6,294.4 830.2,289.5"/>
<polyline class="co" points="829.1,291.5 829.8,296.4 830.6,301.2"/>
<polygon class="co" points="750.5,342.2 749.6,339.3 752.5,334.4 757.4,330.5 764.2,326.6 772.0,323.7 777.9,322.7 783.8,321.7 785.7,318.8 790.6,315.9 794.5,314.9 797.4,311.0 796.4,314.9 794.5,318.8 796.4,322.7 797.0,325.6 793.5,329.6 787.7,333.5 781.8,336.4 775.9,335.4 768.1,337.4 762.3,339.3 756.4,342.2 750.5,343.2"/>
<polyline class="co" points="784.7,320.8 787.7,317.2 791.6,313.9 795.5,311.0 797.8,308.7"/>
<polygon class="co" points="705.6,379.4 708.6,374.5 714.4,374.5 719.3,370.6 725.2,364.7 731.0,359.8 736.9,357.5 743.7,357.5 748.6,356.3 746.6,354.0 752.5,351.0 758.4,349.1 763.8,347.7 763.2,352.0 758.4,357.9 752.5,364.7 745.7,368.6 738.8,372.5 733.0,377.4 727.1,381.3 719.3,383.3 713.4,383.3 707.6,382.3 704.6,380.3"/>
<polyline class="co" points="743.7,357.5 748.2,357.9"/>
<polygon class="co" points="710.5,362.8 712.5,360.8 715.4,362.8 717.3,366.7 714.4,368.6 710.5,367.6"/>
<polyline class="co" points="710.5,367.6 709.5,371.5 706.6,378.4"/>
<polyline class="co" points="712.5,360.8 714.4,355.9 715.4,353.6"/>
<polyline class="co" points="763.2,347.7 761.9,343.8 758.4,341.9"/>
<polyline class="co" points="690.0,312.0 693.9,313.9 696.8,318.8 698.8,326.6 695.9,334.4 692.0,340.3 692.9,345.2 696.8,346.2 698.8,341.3 701.7,337.4 705.6,335.4 709.5,339.3 712.5,346.2 715.4,353.6"/>
<polyline class="co" points="715.4,353.6 719.3,351.0 722.2,346.2 721.2,340.3 722.2,334.4 724.8,328.6 726.1,322.7 725.2,318.8 721.2,313.0 718.3,311.0 719.3,310.0 724.2,312.0 726.1,314.9 729.1,316.9 732.0,320.8 737.9,320.4 742.3,320.8 742.7,314.9 745.1,314.9 743.7,313.0 738.8,309.0 735.9,303.2 728.1,295.8 714.4,295.4 690.0,296.4"/>
<polyline class="co" points="736.9,304.2 738.8,302.8 738.4,306.1 740.8,308.1 740.4,311.0 743.1,312.0"/>
<polyline class="co" points="690.0,299.3 701.7,301.2 713.4,303.2 716.4,306.1 715.4,298.3 713.4,295.8"/>
<polyline class="co" points="693.9,300.3 701.7,298.9 709.5,299.7 713.4,301.2"/>
<polyline class="co" points="915.0,270.0 913.1,270.6 910.0,271.9 907.5,271.2 906.2,275.0 903.1,275.6 901.2,278.8 898.8,277.5 898.1,281.2 895.0,280.6 895.6,284.4 892.5,282.5 890.0,281.9 888.8,285.0 891.2,288.8 888.8,287.5 887.5,290.0 885.6,288.8 885.0,293.1 883.1,295.0 880.6,297.5 877.5,299.4 876.2,301.9 875.6,305.6 873.8,307.5 873.5,312.5 872.5,315.6 872.2,318.5 872.8,321.2 875.6,322.5 876.2,324.4 873.8,326.2 872.5,328.8 873.1,330.6 876.2,331.2 878.8,333.8 881.2,336.2 883.1,338.1 885.6,339.1 888.8,337.9 890.4,336.2 890.0,333.5 888.5,331.6 886.0,331.0 884.6,331.8 886.2,332.2 888.8,333.1 889.4,335.6 888.1,337.1"/>
<polyline class="cd" points="890.0,285.0 891.9,286.2 893.8,285.0 893.1,287.5 895.0,288.8 892.5,289.4"/>
<polyline class="cd" points="894.4,281.9 896.2,283.1 897.5,281.9 896.9,285.0"/>
<polyline class="cd" points="885.0,293.1 886.9,291.2 888.8,288.8 890.0,285.6 891.9,283.8 895.0,281.9 897.5,279.4 900.6,277.5 903.8,275.6"/>
<polyline class="cd" points="877.5,299.4 879.4,296.9 881.9,295.6 883.8,293.8"/>
<polyline class="co" points="891.5,338.1 890.0,340.2 886.2,341.5 883.1,342.8 880.6,344.0 879.0,345.2 877.5,345.0 875.6,346.2 873.8,345.0 872.5,346.9 870.0,348.8 866.9,350.6 863.8,351.9 860.0,353.1 856.2,355.0 852.5,356.9 848.8,359.4 845.6,361.9 843.1,364.0 841.2,366.2 840.0,368.8 839.4,371.2 838.1,373.8 837.5,376.2 840.0,376.2 841.9,378.8 843.8,380.6"/>
<polyline class="co" points="870.0,340.6 871.2,343.8 872.5,346.5 871.0,345.0 871.9,342.5 873.1,345.0 874.0,343.1"/>
<polyline class="co" points="870.6,341.9 871.9,345.6"/>
<polygon class="co" points="881.0,345.8 883.1,344.8 885.0,345.2 883.1,346.5"/>
<polygon class="co" points="889.4,345.0 891.2,344.2 892.8,344.8 891.0,345.8"/>
<polygon class="co" points="871.2,352.2 872.2,352.0 872.2,353.0 871.2,353.0"/>
<polygon class="co" points="838.8,374.0 842.5,368.8 847.5,365.0 852.5,362.5 857.5,360.0 862.5,357.5 867.5,356.0 869.0,356.2 866.2,358.8 862.5,361.9 858.1,365.0 853.8,367.5 848.8,370.0 843.8,372.5 839.8,374.8"/>
<polyline class="co" points="841.2,372.8 846.2,370.0 851.2,367.8 856.2,365.2 860.6,362.8 864.4,360.0"/>
<polyline class="co" points="860.0,359.5 863.8,357.5 865.6,357.8 861.9,360.2"/>
<polyline class="co" points="920.1,186.7 918.7,192.3 915.2,196.6 912.3,202.2 901.1,202.2 895.5,206.4 892.7,209.2 898.3,206.4 905.3,207.1 909.5,210.6 913.8,206.4 918.7,204.3 920.1,200.1 920.8,205.0 918.7,209.2 919.4,214.8 917.3,219.1 922.2,217.7 925.0,221.9 927.8,225.4 932.7,230.3 937.7,229.6 941.2,233.1 946.1,232.4 950.3,233.8 955.9,231.7 961.6,231.0 964.4,227.5 967.2,226.1 969.3,228.9 972.8,226.8 977.0,227.5"/>
<polyline class="co" points="918.7,200.1 920.1,199.4 921.1,202.2 919.9,205.0"/>
<polyline class="co" points="977.0,227.5 970.0,219.1 971.4,207.8 972.8,199.4 975.6,197.3 979.1,198.7 980.5,207.8 981.2,213.4 984.1,208.5 986.2,208.5 985.5,214.8 986.2,220.5 982.7,223.3 978.4,226.1 977.0,227.5"/>
<polyline class="cd" points="980.5,209.2 982.0,211.3 981.0,215.5 982.7,219.1 980.1,221.9 978.4,224.0 981.2,224.7"/>
<polyline class="cd" points="979.8,210.6 981.2,216.2 979.1,219.1"/>
<polyline class="cd" points="981.5,209.2 983.4,212.0 982.4,216.2 984.3,214.1 983.8,219.1 981.5,222.6"/>
<polygon class="co" points="930.6,221.9 931.3,216.2 933.4,214.1 934.8,219.1 937.7,221.9 941.9,221.2 947.5,220.5 953.1,218.4 958.8,215.5 962.3,214.1 960.2,217.7 958.0,221.9 958.8,225.4 954.5,226.8 950.3,225.4 946.1,226.1 941.9,226.1 937.7,224.0 934.1,223.3"/>
<polyline class="co" points="947.5,224.0 949.6,223.0 951.0,225.0"/>
<polyline class="cd" points="958.3,191.2 956.9,194.5 955.9,198.7 956.8,200.8"/>
<polyline class="cd" points="957.6,192.1 956.4,196.6 956.2,200.1"/>
<polyline class="co" points="932.7,236.6 937.7,237.3 935.5,241.6 933.4,244.4 932.7,247.9 936.2,248.6 940.5,244.4 946.1,242.3 951.7,241.3 947.5,244.4 944.0,250.0 941.2,246.5 939.1,248.6"/>
<polyline class="co" points="939.1,248.6 933.4,257.0 927.8,264.1 923.6,271.1 921.9,275.3 925.0,276.7 928.5,280.9 929.9,282.3 932.7,283.0 935.5,285.2 939.1,283.8 940.5,282.3 941.9,279.5 944.0,276.7 946.1,273.9 948.2,270.4 947.5,266.9 949.6,264.1 948.9,261.2 950.3,259.1 953.1,257.0 955.9,256.3 958.0,252.8 960.9,251.4 963.0,247.9 966.5,245.1 967.9,243.0 972.1,240.2 974.2,236.6 978.4,233.1 981.2,230.3 977.0,227.5"/>
<polyline class="co" points="926.4,265.5 927.8,263.4 928.5,266.2"/>
<polyline class="co" points="932.7,236.6 930.6,243.0 926.4,250.0 920.8,255.6 915.2,259.1 910.2,262.0 907.4,263.4 908.8,264.8 910.2,269.0 913.0,268.3 913.8,270.4 911.6,271.1 906.0,272.5 902.5,275.3 898.3,277.4 894.1,280.9 889.8,283.8 888.4,286.6 891.2,288.0 887.0,290.8 882.8,295.0 880.0,297.8"/>
<polyline class="co" points="903.9,275.3 901.1,278.8 899.0,279.5 896.9,282.3 894.8,283.0 893.4,285.9 890.5,286.6 889.8,289.4"/>
<polyline class="co" points="126.7,386.0 126.7,393.8 128.7,399.7 131.6,407.5 133.6,413.3 132.6,416.3 135.5,418.2 138.5,421.2 136.5,428.0 137.1,434.8 140.4,438.7 143.3,442.6 140.4,446.5 140.4,452.4 143.3,458.3 147.2,466.1 150.2,471.9 152.1,477.8 151.2,483.7 150.8,488.5 154.1,491.5 160.9,493.4 166.8,496.4 170.7,501.2 175.6,504.2 180.5,507.1 181.4,512.0 186.3,514.9 191.2,520.8 194.1,526.6 195.1,532.5"/>
<polyline class="cd" points="138.5,421.2 139.4,417.2 142.4,416.3 143.3,419.2 141.0,421.2 140.4,425.1 142.4,428.0 144.9,429.9 141.4,429.9 139.0,426.0 138.5,421.2"/>
<polygon class="co" points="178.1,407.5 178.9,405.5 180.8,405.5 181.4,408.5 180.1,411.0 178.5,410.4"/>
<polyline class="co" points="150.8,499.3 154.1,500.3 156.0,502.2 155.1,503.2 153.1,501.6"/>
<polyline class="co" points="157.0,501.2 159.9,502.2 158.0,503.2"/>
<polyline class="co" points="160.9,502.6 164.4,502.8 162.9,503.6"/>
<polygon class="co" points="160.5,516.9 162.1,516.9 162.1,518.4 160.5,518.4"/>
<polygon class="co" points="176.5,517.2 178.9,518.0 180.1,520.4 178.1,520.0"/>
<polygon class="co" points="174.6,525.1 176.2,525.8 177.5,529.6 175.6,528.6"/>
<polyline class="co" points="243.9,479.8 248.8,479.4 251.7,476.8 252.7,472.9 253.7,479.8 255.6,482.7 257.6,479.8 259.6,483.7 260.9,487.6"/>
<polyline class="co" points="645.9,386.0 647.8,388.9 652.7,389.9 658.6,387.0 662.5,386.0"/>
<polyline class="co" points="844.1,379.8 843.6,386.6"/>
<polyline class="co" points="836.7,461.8 841.6,468.6 844.9,476.4 840.6,482.3 836.7,486.2 833.8,489.1 832.8,492.1 827.0,492.1 821.1,495.0 818.2,498.9 815.2,504.8 813.3,510.6 809.4,512.2 804.5,512.6 799.6,518.4 796.7,525.3 793.8,532.1 787.9,538.0 783.0,542.9 778.1,546.8 775.2,551.6 773.2,557.5 771.3,563.4 770.3,570.0"/>
<polyline class="cd" points="822.1,461.8 828.9,460.8 834.8,463.8 838.7,467.7 839.6,473.5 836.7,479.4 832.8,483.3"/>
<polyline class="cd" points="827.0,465.7 832.8,467.7 828.9,469.6 834.8,470.6"/>
<polyline class="cd" points="821.1,477.4 827.0,476.4 829.9,479.4 825.0,482.3 822.1,485.2 828.9,485.2 832.8,487.2 831.8,492.1"/>
<polyline class="cd" points="819.1,494.0 822.1,492.1 824.0,495.0"/>
<polyline class="co" points="831.8,455.9 834.8,461.8 837.7,466.7 839.1,471.6"/>
<polyline class="co" points="775.2,545.8 778.1,543.8 780.1,546.8 777.1,548.7"/>
<polyline class="co" points="785.9,537.0 788.9,536.0 789.8,538.9"/>
<polyline class="co" points="793.8,526.2 796.7,525.3 795.7,528.6"/>
<polyline class="co" points="194.6,530.0 195.2,538.8 197.6,547.6 199.5,557.3 201.5,567.1 204.4,576.9 206.4,582.7 207.3,592.5 211.2,598.4 217.1,605.2 222.0,612.0 226.9,618.9 229.8,625.7 227.9,631.6 223.9,635.5 218.1,636.4 211.2,634.5 216.1,639.4 219.1,646.2 223.9,651.1 229.8,656.0 232.7,658.9 238.6,658.9 239.6,657.0 240.5,662.8 244.5,667.7 249.3,672.6 253.2,679.4 254.2,686.2 252.3,694.1 249.3,699.9 251.3,703.8 254.2,707.7 259.1,710.7 264.0,713.6 266.9,716.1"/>
<polyline class="co" points="224.5,635.5 226.9,633.1 228.8,636.4 226.9,640.4 224.9,638.4"/>
<polygon class="co" points="207.3,627.7 209.3,623.8 210.9,626.7 209.3,629.6"/>
<polyline class="co" points="249.3,699.9 252.3,701.9 255.2,706.8 258.1,705.8 260.1,708.7 257.1,709.7 254.2,705.8"/>
<polyline class="co" points="227.9,559.3 225.9,569.1 226.9,578.8 226.9,588.6 229.8,596.4 233.7,602.3 237.6,608.1 240.5,615.9 244.5,620.8 247.4,625.7 249.3,629.6 250.3,635.5 251.3,641.3 255.2,647.2 258.1,653.0 261.1,658.9 265.0,664.8 267.9,670.6 269.8,678.4 271.8,686.2 273.8,694.1 276.7,699.9 275.7,705.8 274.7,711.6 276.1,716.1"/>
<polyline class="co" points="227.9,559.3 232.7,563.2 237.6,567.1 242.5,566.1 247.4,571.0 253.2,575.9 255.2,584.7 257.1,592.5 259.1,600.3 262.0,608.1 264.0,614.0 264.0,621.8 267.9,626.7 272.8,633.5 277.7,640.4 281.6,644.3 286.4,646.2 286.4,652.1 289.4,658.9 295.2,662.8 297.2,668.7 303.0,670.6 307.0,676.5 307.0,680.4 303.0,682.3 302.1,688.2 305.0,692.1 309.9,695.0 314.8,699.9 320.6,705.8 324.5,712.6 327.5,716.1"/>
<polygon class="co" points="257.1,620.8 259.1,616.9 262.0,615.0 263.6,618.9 262.0,623.4 259.1,624.1"/>
<polygon class="co" points="240.9,608.1 242.5,606.2 244.5,608.1 246.0,613.0 247.4,616.9 245.4,617.5 242.9,613.0"/>
<polygon class="co" points="250.3,625.1 251.3,625.1 251.3,626.3 250.3,626.3"/>
<polygon class="co" points="254.8,624.1 255.8,624.1 255.8,625.3 254.8,625.3"/>
<polygon class="co" points="262.0,662.8 263.6,663.8 264.4,667.7 262.8,667.1"/>
<polygon class="co" points="270.2,680.4 271.4,680.0 271.8,683.3 270.6,683.1"/>
<polygon class="co" points="276.3,686.8 277.3,686.8 277.3,688.0 276.3,688.0"/>
<polygon class="co" points="276.9,694.6 277.9,694.6 277.9,695.8 276.9,695.8"/>
<polygon class="co" points="276.7,699.9 278.2,700.9 278.6,703.8 277.1,703.0"/>
<polygon class="co" points="280.6,709.7 282.0,710.7 282.5,714.6 281.0,713.6"/>
<polyline class="co" points="319.6,702.9 321.6,704.8 323.6,708.7 322.2,709.7 320.2,705.8 319.6,702.9"/>
<polyline class="co" points="305.0,678.4 307.3,678.8 306.6,681.4"/>
<polyline class="co" points="539.7,641.3 533.8,644.3 528.0,648.2 523.1,652.1 519.2,657.0 515.3,662.8 512.3,668.7 510.4,675.5 511.4,682.3 513.3,688.2 515.3,695.0 515.3,699.9 513.3,705.8 510.4,711.6 508.4,716.1"/>
<polyline class="cd" points="523.1,645.2 526.0,643.3 528.0,646.2 530.9,644.3 529.9,647.2 526.0,648.2"/>
<polyline class="cd" points="520.2,650.1 522.1,655.0 519.2,656.0 520.5,652.1"/>
<polyline class="cd" points="515.3,655.0 517.2,657.9 514.3,659.9 516.2,656.0"/>
<polyline class="cd" points="508.4,660.9 511.4,659.9 512.3,664.8 515.3,662.8"/>
<polyline class="cd" points="504.5,670.6 507.5,669.6 509.4,672.6 506.5,673.6 505.5,671.6"/>
<polyline class="cd" points="509.4,675.5 508.4,682.3 510.4,690.2 512.3,696.0"/>
<polyline class="cd" points="504.5,716.1 504.1,710.7 506.5,708.7 509.4,707.7 510.4,709.7 508.4,712.6"/>
<polyline class="co" points="667.9,604.2 674.8,603.2 676.7,601.3 680.6,600.3 686.5,599.3 694.3,599.3 700.2,601.3 705.0,604.2 708.9,608.1 711.9,611.1 715.8,611.1 719.7,608.1 723.6,605.2 726.5,602.3 731.4,600.3 736.3,602.3 740.0,605.2"/>
<polyline class="cd" points="676.7,598.4 677.7,600.7 679.6,598.8 681.0,600.3"/>
<polyline class="co" points="688.4,598.8 691.4,598.4 694.3,598.8"/>
<polyline class="co" points="701.1,600.7 703.1,602.3"/>
<polyline class="co" points="709.9,610.1 712.9,611.6 716.8,610.5 720.7,608.1"/>
<polyline class="co" points="725.2,602.7 726.5,604.2"/>
<polyline class="co" points="540.0,642.5 543.8,638.8 547.5,635.0 551.2,631.2 555.0,628.1 560.0,626.9 565.0,624.4 570.0,622.5 575.0,621.9 580.0,621.9 585.0,623.1 590.0,624.4 595.0,624.4 597.5,623.1 598.8,620.6 602.5,620.0 606.2,621.2 608.1,623.8 611.2,625.6 613.8,628.1 616.9,630.0 620.0,632.5 623.1,631.2 626.2,628.1 629.4,628.8 631.2,630.0 633.1,627.5 635.0,623.8 637.5,621.9 640.0,623.1 643.8,625.6 647.5,626.9 650.0,628.1 649.4,630.6 646.9,630.0 645.6,632.5 644.4,630.0 641.2,628.1 638.1,625.6 636.2,623.8 638.1,620.6 641.2,617.5 643.8,615.0 645.6,611.9 644.4,610.6 641.9,612.5 640.0,615.0 638.8,617.5 638.8,611.9 641.2,608.1 645.0,606.2 650.0,604.4 655.0,603.8 658.8,603.1 663.1,602.5 663.1,598.1 664.4,596.9 665.6,598.8 666.2,602.5 668.0,603.1"/>
<polyline class="cd" points="638.8,617.5 640.6,614.4 643.1,611.9 645.0,611.2 643.8,613.8 641.5,616.2 639.8,618.8 638.1,620.6"/>
<polyline class="cd" points="640.0,616.2 642.5,613.1 644.8,612.2"/>
<polyline class="cd" points="547.5,635.0 550.0,632.5 552.5,630.0 555.0,628.1"/>
<polyline class="co" points="646.2,608.1 650.0,606.9"/>
<polyline class="co" points="652.5,606.2 657.5,605.6"/>
<polyline class="co" points="650.6,611.2 652.2,613.8 651.2,618.1"/>
<polygon class="co" points="626.2,608.1 628.8,606.5 631.9,606.9 635.0,609.4 636.9,611.2 635.0,613.1 631.2,613.8 627.5,613.1 625.6,610.6"/>
<polygon class="co" points="622.5,610.0 623.8,608.5 625.6,609.4 625.0,611.2 623.1,611.5"/>
<polyline class="cd" points="549.4,624.4 552.5,623.8 555.6,621.9 555.0,625.6 556.2,627.5 553.1,628.8 551.2,627.5 549.4,624.4"/>
<polygon class="co" points="567.8,620.6 569.4,618.5 570.6,619.4 569.4,621.9"/>
<polyline class="co" points="576.2,620.6 578.1,616.2 579.4,620.6"/>
<polygon class="co" points="586.0,618.1 588.1,618.1 588.1,620.0 586.2,619.8"/>
<polygon class="co" points="590.0,620.6 592.5,620.6 593.1,622.5 590.6,622.5"/>
<polyline class="co" points="597.5,621.9 600.0,620.0 602.5,619.4 605.0,620.6 604.4,623.1 602.5,625.0 600.0,624.4 597.5,623.1"/>
<polyline class="co" points="612.5,628.1 614.4,626.9 615.0,629.4"/>
<polyline class="co" points="620.0,632.5 621.2,630.0 623.8,629.4 626.2,631.2 627.5,628.1 630.0,627.5 632.5,629.4"/>
<polyline class="co" points="632.5,626.9 633.8,624.4 636.2,623.1 636.9,625.6 634.4,628.1"/>
<polyline class="co" points="645.6,628.1 647.5,629.4 646.2,631.2"/>
<polyline class="co" points="796.4,530.0 792.5,534.9 787.6,538.8 782.7,542.7 778.8,545.6 775.9,549.5 773.9,554.4 772.0,559.3 770.0,566.1 769.1,573.0 770.0,581.2 771.0,586.6 773.9,594.5 777.9,602.3 782.7,610.1 787.6,616.9 792.5,623.8 797.4,631.6 802.3,639.4 806.2,646.2 809.1,654.0 810.5,662.8 811.1,672.6 810.1,680.4 807.1,685.3 803.2,690.2 798.4,694.1 792.5,697.0 786.6,699.5 789.6,697.0 794.5,695.0 791.5,698.0 787.6,699.5"/>
<polyline class="cd" points="774.5,546.6 776.9,544.6 781.2,545.2 778.8,548.0 776.5,549.9"/>
<polyline class="co" points="770.6,559.3 769.1,563.2 771.4,567.1 769.1,570.0 770.0,574.9"/>
<polyline class="co" points="787.6,615.9 789.6,618.9 792.5,621.8 793.5,619.8 790.5,615.9 788.6,615.0 787.6,615.9"/>
<polyline class="co" points="788.6,617.9 794.5,627.7 799.3,636.4 804.2,645.2 807.7,654.0 809.1,662.8 809.7,672.6 808.5,679.4"/>
<polyline class="co" points="807.1,684.3 802.3,685.3 797.4,686.2 795.4,684.3 793.5,679.4 790.5,675.5 785.7,673.6 782.7,670.6 779.8,666.7 776.9,664.8 773.9,662.8 772.0,658.9 770.0,655.0 768.1,651.1 764.2,647.2 761.2,645.2 759.7,641.3 757.3,636.4 757.0,631.6 758.3,626.7 757.3,620.8 754.4,615.9 749.5,614.0 744.6,610.1 740.7,606.2 736.8,602.3 732.0,599.9 730.0,599.7"/>
<polyline class="cd" points="771.0,654.0 773.9,655.0 774.9,658.9 775.3,663.8 773.4,664.4 772.0,659.9"/>
<polyline class="cd" points="759.3,636.4 762.2,635.5 764.8,637.0 763.6,640.4 762.2,644.3 760.3,642.3 761.2,638.4"/>
<polygon class="co" points="789.6,651.1 791.5,647.2 794.1,645.2 797.4,647.2 798.4,652.1 796.8,655.4 793.5,655.0 790.9,653.4"/>
<polyline class="cd" points="826.7,649.1 829.6,651.1 834.5,648.8 839.4,647.2 843.3,646.2 843.7,642.9 846.2,640.9 850.1,640.4 854.0,642.3 857.9,642.9 860.5,644.3 861.2,649.1 858.9,652.1 857.9,655.0 860.5,657.9 857.0,656.6 855.0,653.0 856.6,647.2 853.0,645.2 850.1,647.2 847.2,645.2"/>
<polyline class="cd" points="831.6,645.2 834.5,644.3 837.0,646.2"/>
<polyline class="cd" points="857.0,644.3 859.3,646.2 858.5,649.5 856.6,648.2"/>
<polygon class="co" points="835.1,636.6 836.1,636.6 836.1,637.6 835.1,637.6"/>
<polygon class="co" points="840.9,637.0 841.9,637.0 841.9,638.0 840.9,638.0"/>
<polygon class="co" points="824.5,667.5 826.1,667.5 826.1,669.1 824.5,669.1"/>
<polyline class="cd" points="848.2,661.8 852.1,664.8 853.0,667.7 850.1,669.1"/>
<polygon class="co" points="842.9,685.9 845.6,682.3 846.8,674.5 849.1,675.5 852.1,681.4 856.0,687.2 859.9,692.1 862.8,696.0 863.2,700.9 860.5,701.9 857.9,698.0 855.0,693.1 851.1,689.2 847.2,687.8"/>
<polyline class="cd" points="854.0,689.2 857.0,693.1 858.9,697.0 861.2,700.3 859.9,695.0 857.0,690.2 855.0,691.1 857.9,696.0"/>
<polyline class="cd" points="856.0,692.1 859.3,698.4"/>
<polygon class="co" points="857.9,674.9 861.8,673.0 865.2,671.6 862.8,674.1 859.3,675.9"/>
<polyline class="cd" points="867.7,664.8 869.6,662.4 874.5,663.8 879.4,665.7 881.4,669.6 882.3,674.5 883.9,676.9 881.4,676.1 880.0,670.6 876.5,666.7 871.6,665.2 868.7,666.7 867.7,664.8"/>
<polyline class="cd" points="890.2,674.5 894.1,677.5 898.0,681.4 900.3,683.3 897.0,683.9"/>
<polyline class="cd" points="871.0,675.5 872.6,680.4 876.5,684.3 881.4,689.2 886.2,693.1 891.1,696.0 896.0,697.0 900.9,697.6 894.1,698.4 891.1,697.6"/>
<polyline class="cd" points="901.9,691.1 905.8,695.0 909.7,699.9 913.6,702.9 914.6,704.8 910.7,701.9 906.8,698.0"/>
<polygon class="co" points="914.6,679.4 916.1,680.0 915.5,682.7 914.2,682.0"/>
<polyline class="cd" points="909.3,689.2 911.6,689.8"/>
<polyline class="cd" points="924.3,703.4 927.3,702.7 930.0,702.9"/>
<polyline class="cd" points="925.3,705.8 928.2,708.7 927.3,711.6 930.0,712.6"/>
<polygon class="co" points="896.6,705.4 897.4,705.4 897.4,706.4 896.6,706.4"/>
<polygon class="co" points="897.2,709.3 898.0,709.3 898.0,710.3 897.2,710.3"/>
<polygon class="co" points="896.6,713.2 897.4,713.2 897.4,714.2 896.6,714.2"/>
<polygon class="co" points="868.3,691.7 869.3,691.7 869.3,692.7 868.3,692.7"/>
<polyline class="cd" points="886.2,676.5 887.8,677.5"/>
<polyline class="cd" points="923.8,703.1 927.7,703.1 931.6,702.8 933.1,704.4 932.3,707.8 930.8,710.9 928.4,715.6"/>
<polyline class="cd" points="924.5,703.9 926.1,707.8 928.4,706.2 930.0,708.6 927.7,709.4 926.9,705.5"/>
<polyline class="cd" points="925.3,705.0 930.0,704.4 931.9,705.9"/>
<polyline class="cd" points="932.3,695.0 934.4,695.6"/>
<polyline class="cd" points="937.8,703.1 940.2,703.4"/>
<polygon class="co" points="947.2,705.0 951.1,704.4 954.7,705.0 951.1,706.2 947.5,706.2"/>
<polyline class="cd" points="963.6,714.8 965.9,711.7 968.3,709.4 970.6,708.1 974.5,708.6 978.4,709.4 980.8,710.2 981.2,714.8"/>
<polyline class="cd" points="971.4,709.4 975.3,710.9 980.0,711.7 980.3,714.1"/>
<polyline class="cd" points="969.1,710.2 972.2,711.7 976.1,711.2"/>
<polyline class="cd" points="287.5,381.2 290.0,380.0 292.5,383.8 293.8,387.5 297.5,388.8 298.8,392.5 301.2,393.8 302.0,397.0 298.8,398.0 297.5,400.0 294.5,400.5 292.5,396.2 290.5,392.5 288.8,389.5 287.5,386.2 287.5,381.2"/>
<polyline class="co" points="291.2,386.2 293.0,391.2 295.5,393.8 297.0,397.0"/>
<polyline class="co" points="843.8,380.0 844.1,383.9 843.8,387.8 842.7,391.7 841.1,395.6 839.1,399.1 838.0,402.7 837.6,405.8 836.4,407.3 835.2,405.8 835.6,403.4 833.3,402.3 830.5,401.5 827.8,401.1 825.9,399.5 824.3,397.2 823.9,394.8 825.1,392.5 823.5,394.8 824.3,398.0 826.2,400.7 828.2,403.4 829.4,405.8 830.9,408.1 833.3,409.7 835.2,411.2 836.0,413.6 836.8,416.7 836.4,419.8 835.6,423.4 834.8,426.9 833.7,430.8 832.9,434.7 832.3,438.6 831.3,442.5 829.8,443.7 828.6,441.7 828.6,438.6 829.4,434.7 830.2,431.6 830.5,429.2 829.8,427.7"/>
<polyline class="cd" points="841.9,389.4 841.1,393.3 839.9,396.8 838.8,399.5"/>
<polyline class="cd" points="829.8,437.0 830.5,439.4 830.2,442.1 831.1,440.2 831.6,437.4"/>
<polyline class="cd" points="834.1,411.6 835.2,413.6 835.6,415.9"/>
<polyline class="cd" points="834.5,423.8 833.7,427.7"/>
<polyline class="cd" points="829.4,426.9 827.8,428.4 825.9,428.8 824.3,426.9 825.5,424.5 823.9,422.2 825.1,420.6 822.3,419.1 821.2,416.7 822.0,415.5 819.2,414.4 818.4,412.0 817.7,409.7 818.4,407.3 817.3,405.0 818.0,402.7 819.2,400.3 818.4,399.1 816.1,401.1 814.1,403.0 812.6,405.0 811.0,407.3 812.6,408.9 812.2,411.2 813.4,413.6 813.8,416.7 814.5,419.8 815.7,422.2 816.9,424.5 818.4,426.1 816.1,425.7 813.8,425.3 811.0,426.9 809.1,425.7 806.7,424.9 804.8,426.1 804.0,423.8 804.4,421.4 805.5,419.8"/>
<polyline class="cd" points="820.8,415.5 822.3,416.7 821.6,418.3 823.5,420.6 822.7,422.6 824.7,423.8 825.9,426.1 827.0,424.9 826.2,422.6 825.1,421.4"/>
<polyline class="cd" points="817.7,408.1 819.2,410.5 818.4,412.8 820.0,415.2"/>
<polyline class="cd" points="813.0,405.8 814.5,408.1 813.8,410.5 814.9,412.8 814.5,415.2 815.9,417.5 815.5,419.8"/>
<polyline class="co" points="818.4,426.1 820.0,427.7 818.4,428.8 815.3,428.4 812.6,430.0 811.0,430.8 814.5,432.3 817.7,433.9 820.8,434.7 822.0,436.2 820.0,437.0 817.7,438.6 815.3,439.8 818.4,440.9 821.6,441.7 823.5,440.2 824.3,442.5 822.3,444.1 819.2,444.8 816.1,444.5 813.4,444.8 816.9,446.4 820.8,447.2 823.9,446.4 825.9,448.8 823.1,450.3 822.3,451.1 826.2,449.9 828.6,448.0 830.5,447.6 831.7,451.1 833.3,455.0 834.8,458.1 836.0,460.0"/>
<polyline class="cd" points="811.0,430.8 814.5,432.0 818.4,433.5 821.6,435.1"/>
<polyline class="cd" points="815.3,439.8 818.4,440.5 822.0,441.3"/>
<polyline class="cd" points="813.4,444.8 817.3,446.0 821.2,446.8 824.3,446.8"/>
<polyline class="cd" points="831.3,451.9 832.5,455.0 833.7,458.1 834.5,460.0"/>
<polygon class="co" points="160.9,597.0 163.3,596.2 164.1,600.9 161.7,602.5"/>
<polyline class="cd" points="509.4,186.6 511.9,193.5 514.4,202.2 515.6,206.0 518.8,211.0 521.2,215.4 520.6,220.4 520.0,226.0 518.1,227.2 517.5,230.4 515.0,231.6 513.1,228.5 513.1,222.2 514.4,217.2 512.5,214.8 515.0,210.4 513.1,207.9 510.6,210.4 508.8,210.4 508.1,206.0 508.8,202.2 506.9,198.5 503.8,197.9 501.2,201.6 500.0,201.0"/>
<polyline class="co" points="500.0,229.8 501.2,231.0 500.6,233.5 500.0,233.2"/>
<polygon class="co" points="513.8,214.1 515.6,213.5 515.0,216.0 513.5,216.2"/>
<polyline class="cd" points="534.4,258.5 534.4,255.4 535.6,252.2 535.0,248.5 536.2,245.4 539.4,244.1 543.1,242.9 545.6,244.1 546.9,247.2 549.4,249.8 551.2,253.5 549.4,255.4 546.9,256.0 545.0,257.9 543.1,260.4 540.6,259.1 538.8,257.9 536.9,260.4 535.0,260.4 534.4,258.5"/>
<polyline class="cd" points="536.9,246.0 538.8,248.5 540.6,246.0 542.5,248.5 541.2,251.0 543.8,250.4 545.6,252.9 543.8,254.8 541.9,254.1 542.5,256.6 544.4,257.2"/>
<polyline class="cd" points="537.5,251.0 539.4,252.2 538.1,254.1"/>
<polyline class="cd" points="546.2,248.5 548.1,251.0 546.9,253.5"/>
<polyline class="cd" points="557.2,258.5 559.4,259.1 561.2,261.6 564.4,262.9 567.5,264.8 570.0,266.0 569.4,267.9 566.2,267.2 563.1,266.6 560.0,264.8 558.1,262.2 557.5,259.8 557.2,258.5"/>
<polyline class="cd" points="559.4,261.0 561.9,264.1 565.0,264.8 568.1,266.6"/>
<polyline class="cd" points="611.9,239.8 611.2,236.0 613.1,231.6 615.0,228.5 618.1,227.2 621.2,228.5 623.8,232.2 624.0,237.2 623.8,242.2 621.9,244.1 619.4,244.8 616.9,244.1 615.0,242.2 613.1,242.9 611.9,241.0 611.9,239.8"/>
<polyline class="co" points="615.6,241.0 617.5,242.9 618.8,241.0"/>
<polygon class="co" points="613.1,274.8 616.2,272.2 620.0,269.1 621.9,267.9 620.6,270.4 617.5,272.9 614.4,275.4"/>
<polyline class="cd" points="593.1,301.0 593.8,297.9 595.6,294.8 598.1,292.2 598.8,291.6 597.5,295.4 595.6,297.2 596.9,299.1 595.0,300.4"/>
</g>
<rect x="115.65" y="186.5" width="870.90" height="529.85" fill="none" stroke="#141414" stroke-width="1.12"/>
<line class="tk" x1="235.2" y1="169.5" x2="235.2" y2="186.5"/>
<line class="tk" x1="417.6" y1="169.5" x2="417.6" y2="186.5"/>
<line class="tk" x1="594.5" y1="169.5" x2="594.5" y2="186.5"/>
<line class="tk" x1="778.1" y1="169.5" x2="778.1" y2="186.5"/>
<line class="tk" x1="977.5" y1="169.5" x2="977.5" y2="186.5"/>
<line class="tk" x1="287.3" y1="716.35" x2="287.3" y2="733.35"/>
<line class="tk" x1="465" y1="716.35" x2="465" y2="733.35"/>
<line class="tk" x1="641.9" y1="716.35" x2="641.9" y2="733.35"/>
<line class="tk" x1="822.4" y1="716.35" x2="822.4" y2="733.35"/>
<line class="tk" x1="98.65" y1="272.7" x2="115.65" y2="272.7"/>
<line class="tk" x1="98.65" y1="372.3" x2="115.65" y2="372.3"/>
<line class="tk" x1="98.65" y1="470.7" x2="115.65" y2="470.7"/>
<line class="tk" x1="98.65" y1="569.5" x2="115.65" y2="569.5"/>
<line class="tk" x1="98.65" y1="669.9" x2="115.65" y2="669.9"/>
<line class="tk" x1="986.55" y1="233.8" x2="1003.55" y2="233.8"/>
<line class="tk" x1="986.55" y1="336.6" x2="1003.55" y2="336.6"/>
<line class="tk" x1="986.55" y1="437.7" x2="1003.55" y2="437.7"/>
<line class="tk" x1="986.55" y1="538.9" x2="1003.55" y2="538.9"/>
<line class="tk" x1="986.55" y1="640.6" x2="1003.55" y2="640.6"/>
<text x="81.2" y="282.9" font-size="29.2" text-anchor="end">45°N</text>
<text x="81.2" y="382.5" font-size="29.2" text-anchor="end">40°N</text>
<text x="81.2" y="480.9" font-size="29.2" text-anchor="end">35°N</text>
<text x="81.2" y="579.7" font-size="29.2" text-anchor="end">30°N</text>
<text x="81.2" y="680.1" font-size="29.2" text-anchor="end">25°N</text>
<text x="286.7" y="761.8" font-size="29.5" text-anchor="middle">110°W</text>
<text x="464.4" y="761.8" font-size="29.5" text-anchor="middle">100°W</text>
<text x="641.3" y="761.8" font-size="29.5" text-anchor="middle">90°W</text>
<text x="821.8" y="761.8" font-size="29.5" text-anchor="middle">80°W</text>
<text x="197.6" y="141.8" font-size="37.2" textLength="706.5" lengthAdjust="spacing">Ensemble Mean 20250825 Daily AOD Forecast</text>
<rect x="195.30" y="800.0" width="32.65" height="43.3" fill="#ffffff"/>
<rect x="227.65" y="800.0" width="32.65" height="43.3" fill="#dff3fc"/>
<rect x="260.00" y="800.0" width="32.65" height="43.3" fill="#bfe6f8"/>
<rect x="292.35" y="800.0" width="32.65" height="43.3" fill="#9fd9f5"/>
<rect x="324.70" y="800.0" width="32.65" height="43.3" fill="#83c0e6"/>
<rect x="357.05" y="800.0" width="32.65" height="43.3" fill="#68a9dc"/>
<rect x="389.40" y="800.0" width="32.65" height="43.3" fill="#4a8bc9"/>
<rect x="421.75" y="800.0" width="32.65" height="43.3" fill="#4a9ba0"/>
<rect x="454.10" y="800.0" width="32.65" height="43.3" fill="#4aa673"/>
<rect x="486.45" y="800.0" width="32.65" height="43.3" fill="#4ab248"/>
<rect x="518.80" y="800.0" width="32.65" height="43.3" fill="#82c44e"/>
<rect x="551.15" y="800.0" width="32.65" height="43.3" fill="#c3d955"/>
<rect x="583.50" y="800.0" width="32.65" height="43.3" fill="#f8e85c"/>
<rect x="615.85" y="800.0" width="32.65" height="43.3" fill="#f8bf48"/>
<rect x="648.20" y="800.0" width="32.65" height="43.3" fill="#f8983c"/>
<rect x="680.55" y="800.0" width="32.65" height="43.3" fill="#f46d2c"/>
<rect x="712.90" y="800.0" width="32.65" height="43.3" fill="#ea552c"/>
<rect x="745.25" y="800.0" width="32.65" height="43.3" fill="#e03e2c"/>
<rect x="777.60" y="800.0" width="32.65" height="43.3" fill="#d4202a"/>
<rect x="809.95" y="800.0" width="32.65" height="43.3" fill="#bf1c26"/>
<rect x="842.30" y="800.0" width="32.65" height="43.3" fill="#aa1a22"/>
<rect x="874.65" y="800.0" width="32.65" height="43.3" fill="#90141c"/>
<line x1="227.65" y1="800.0" x2="227.65" y2="843.3" stroke="#222" stroke-width="0.7"/>
<line x1="260.00" y1="800.0" x2="260.00" y2="843.3" stroke="#222" stroke-width="0.7"/>
<line x1="292.35" y1="800.0" x2="292.35" y2="843.3" stroke="#222" stroke-width="0.7"/>
<line x1="324.70" y1="800.0" x2="324.70" y2="843.3" stroke="#222" stroke-width="0.7"/>
<line x1="357.05" y1="800.0" x2="357.05" y2="843.3" stroke="#222" stroke-width="0.7"/>
<line x1="389.40" y1="800.0" x2="389.40" y2="843.3" stroke="#222" stroke-width="0.7"/>
<line x1="421.75" y1="800.0" x2="421.75" y2="843.3" stroke="#222" stroke-width="0.7"/>
<line x1="454.10" y1="800.0" x2="454.10" y2="843.3" stroke="#222" stroke-width="0.7"/>
<line x1="486.45" y1="800.0" x2="486.45" y2="843.3" stroke="#222" stroke-width="0.7"/>
<line x1="518.80" y1="800.0" x2="518.80" y2="843.3" stroke="#222" stroke-width="0.7"/>
<line x1="551.15" y1="800.0" x2="551.15" y2="843.3" stroke="#222" stroke-width="0.7"/>
<line x1="583.50" y1="800.0" x2="583.50" y2="843.3" stroke="#222" stroke-width="0.7"/>
<line x1="615.85" y1="800.0" x2="615.85" y2="843.3" stroke="#222" stroke-width="0.7"/>
<line x1="648.20" y1="800.0" x2="648.20" y2="843.3" stroke="#222" stroke-width="0.7"/>
<line x1="680.55" y1="800.0" x2="680.55" y2="843.3" stroke="#222" stroke-width="0.7"/>
<line x1="712.90" y1="800.0" x2="712.90" y2="843.3" stroke="#222" stroke-width="0.7"/>
<line x1="745.25" y1="800.0" x2="745.25" y2="843.3" stroke="#222" stroke-width="0.7"/>
<line x1="777.60" y1="800.0" x2="777.60" y2="843.3" stroke="#222" stroke-width="0.7"/>
<line x1="809.95" y1="800.0" x2="809.95" y2="843.3" stroke="#222" stroke-width="0.7"/>
<line x1="842.30" y1="800.0" x2="842.30" y2="843.3" stroke="#222" stroke-width="0.7"/>
<line x1="874.65" y1="800.0" x2="874.65" y2="843.3" stroke="#222" stroke-width="0.7"/>
<rect x="195.3" y="800.0" width="711.7" height="43.3" fill="none" stroke="#777" stroke-width="0.9"/>
<text x="227.7" y="870.0" font-size="21" text-anchor="middle">0</text>
<text x="260.0" y="870.0" font-size="21" text-anchor="middle">0.2</text>
<text x="292.4" y="870.0" font-size="21" text-anchor="middle">0.4</text>
<text x="324.7" y="870.0" font-size="21" text-anchor="middle">0.6</text>
<text x="357.1" y="870.0" font-size="21" text-anchor="middle">0.8</text>
<text x="389.4" y="870.0" font-size="21" text-anchor="middle">1</text>
<text x="421.8" y="870.0" font-size="21" text-anchor="middle">1.2</text>
<text x="454.1" y="870.0" font-size="21" text-anchor="middle">1.4</text>
<text x="486.5" y="870.0" font-size="21" text-anchor="middle">1.6</text>
<text x="518.8" y="870.0" font-size="21" text-anchor="middle">1.8</text>
<text x="551.2" y="870.0" font-size="21" text-anchor="middle">2</text>
<text x="583.5" y="870.0" font-size="21" text-anchor="middle">2.2</text>
<text x="615.9" y="870.0" font-size="21" text-anchor="middle">2.4</text>
<text x="648.2" y="870.0" font-size="21" text-anchor="middle">2.6</text>
<text x="680.5" y="870.0" font-size="21" text-anchor="middle">2.8</text>
<text x="712.9" y="870.0" font-size="21" text-anchor="middle">3</text>
<text x="745.2" y="870.0" font-size="21" text-anchor="middle">3.2</text>
<text x="777.6" y="870.0" font-size="21" text-anchor="middle">3.4</text>
<text x="810.0" y="870.0" font-size="21" text-anchor="middle">3.6</text>
<text x="842.3" y="870.0" font-size="21" text-anchor="middle">3.8</text>
<text x="874.7" y="870.0" font-size="21" text-anchor="middle">4</text>
</svg></body></html>
